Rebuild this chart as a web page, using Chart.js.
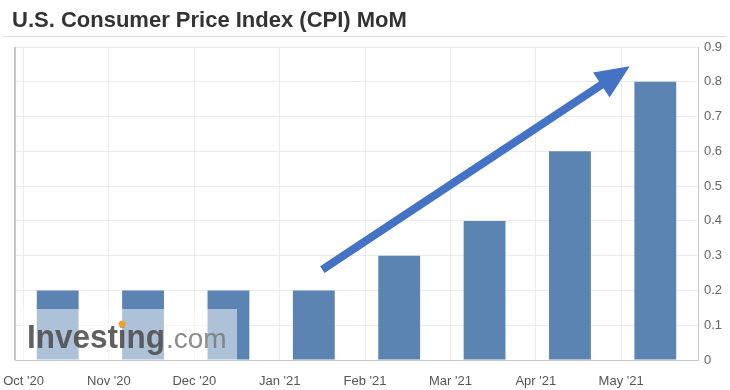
<!DOCTYPE html>
<html>
<head>
<meta charset="utf-8">
<script src="https://cdn.jsdelivr.net/npm/chart.js@4/dist/chart.umd.min.js"></script>
<style>
  html, body { margin: 0; padding: 0; background: #fff; }
  #wrap { width: 730px; height: 390px; }
</style>
</head>
<body>
<div id="wrap"><canvas id="chart"></canvas></div>
<script>
const months = ["Oct '20", "Nov '20", "Dec '20", "Jan '21", "Feb '21", "Mar '21", "Apr '21", "May '21"];
const cpiMoM = [0.2, 0.2, 0.2, 0.2, 0.3, 0.4, 0.6, 0.8];
const yTicks = [0, 0.1, 0.2, 0.3, 0.4, 0.5, 0.6, 0.7, 0.8, 0.9];

const titleText = "U.S. Consumer Price Index (CPI) MoM";
const barColor = "#5b84b3";

// trend arrow, in data units (x = month index, y = value)
const arrowFrom = { x: 3.1, y: 0.26 };
const arrowTo = { x: 6.7, y: 0.845 };

const decor = {
    id: "decor",
    beforeDraw(chart) {
        const c = chart.ctx;
        c.save();
        c.fillStyle = "#333";
        c.font = "bold 22px 'Liberation Sans', Arial, sans-serif";
        c.textBaseline = "alphabetic";
        c.fillText(titleText, 12, 27, 401);
        c.strokeStyle = "#dcdcdc";
        c.lineWidth = 1;
        c.beginPath();
        c.moveTo(3, 36.5);
        c.lineTo(727, 36.5);
        c.stroke();
        c.restore();
    },
    afterDatasetsDraw(chart) {
        const c = chart.ctx;
        const a = chart.chartArea;
        const x = chart.scales.x, y = chart.scales.y;
        c.save();
        // left border of the plot
        c.strokeStyle = "#c4c4c4";
        c.lineWidth = 2;
        c.beginPath();
        c.moveTo(a.left, a.top);
        c.lineTo(a.left, a.bottom);
        c.stroke();

        // watermark
        c.fillStyle = "rgba(255,255,255,0.5)";
        c.fillRect(a.left + 7, a.bottom - 51, 215, 51);
        c.textBaseline = "alphabetic";
        c.font = "bold 34px 'Liberation Sans', Arial, sans-serif";
        c.fillStyle = "rgba(80,80,80,0.9)";
        const wx = 27, wy = 348;
        const full = c.measureText("Investing").width;
        const sc = 138 / full;
        c.fillText("Investing", wx, wy, 138);
        const pre = c.measureText("Invest").width * sc;
        const iw = c.measureText("i").width * sc;
        c.fillStyle = "#f0a030";
        c.beginPath();
        c.arc(wx + pre + iw / 2, 324, 3.5, 0, Math.PI * 2);
        c.fill();
        c.font = "28px 'Liberation Sans', Arial, sans-serif";
        c.fillStyle = "rgba(120,120,120,0.85)";
        c.fillText(".com", 166, wy);

        // arrow
        const x0 = x.getPixelForValue(arrowFrom.x), y0 = y.getPixelForValue(arrowFrom.y);
        const x1 = x.getPixelForValue(arrowTo.x), y1 = y.getPixelForValue(arrowTo.y);
        const ang = Math.atan2(y1 - y0, x1 - x0);
        const headLen = 34, headW = 15;
        const bx = x1 - headLen * Math.cos(ang), by = y1 - headLen * Math.sin(ang);
        c.strokeStyle = "#4472c4";
        c.fillStyle = "#4472c4";
        c.lineWidth = 8;
        c.beginPath();
        c.moveTo(x0, y0);
        c.lineTo(bx + 4 * Math.cos(ang), by + 4 * Math.sin(ang));
        c.stroke();
        c.beginPath();
        c.moveTo(x1, y1);
        c.lineTo(bx + headW * Math.sin(ang), by - headW * Math.cos(ang));
        c.lineTo(bx - headW * Math.sin(ang), by + headW * Math.cos(ang));
        c.closePath();
        c.fill();
        c.restore();
    }
};

new Chart(document.getElementById("chart"), {
    type: "bar",
    data: {
        datasets: [{
            label: "CPI MoM",
            data: months.map((m, i) => ({ x: i, y: cpiMoM[i] })),
            backgroundColor: barColor,
            borderWidth: 0,
            barPercentage: 0.49,
            categoryPercentage: 1
        }]
    },
    options: {
        responsive: true,
        maintainAspectRatio: false,
        animation: false,
        layout: { padding: { top: 47, left: 15, right: 0, bottom: 0 } },
        plugins: { legend: { display: false }, tooltip: { enabled: false } },
        scales: {
            x: {
                type: "linear",
                bounds: "data",
                offset: false,
                min: -0.5,
                max: 7.5,
                afterBuildTicks: s => { s.ticks = months.map((m, i) => ({ value: i - 0.4 })); },
                afterFit: s => { s.height = 30; s.paddingLeft = 0; s.paddingRight = 0; },
                grid: { color: "#ebebeb", drawTicks: false, offset: false },
                border: { color: "#c8c8c8" },
                ticks: {
                    autoSkip: false,
                    maxRotation: 0,
                    padding: 14,
                    color: "#555",
                    font: { family: "'Liberation Sans', Arial, sans-serif", size: 13 },
                    callback: (v, i) => months[i]
                }
            },
            y: {
                position: "right",
                min: 0,
                max: 0.9,
                afterBuildTicks: s => { s.ticks = yTicks.map(v => ({ value: v })); },
                afterFit: s => { s.width = 32; },
                grid: { color: "#ebebeb", drawTicks: false },
                border: { color: "#c8c8c8" },
                ticks: {
                    padding: 6,
                    color: "#666",
                    font: { family: "'Liberation Sans', Arial, sans-serif", size: 13 },
                    callback: v => String(Math.round(v * 10) / 10)
                }
            }
        }
    },
    plugins: [decor]
});
</script>
</body>
</html>
